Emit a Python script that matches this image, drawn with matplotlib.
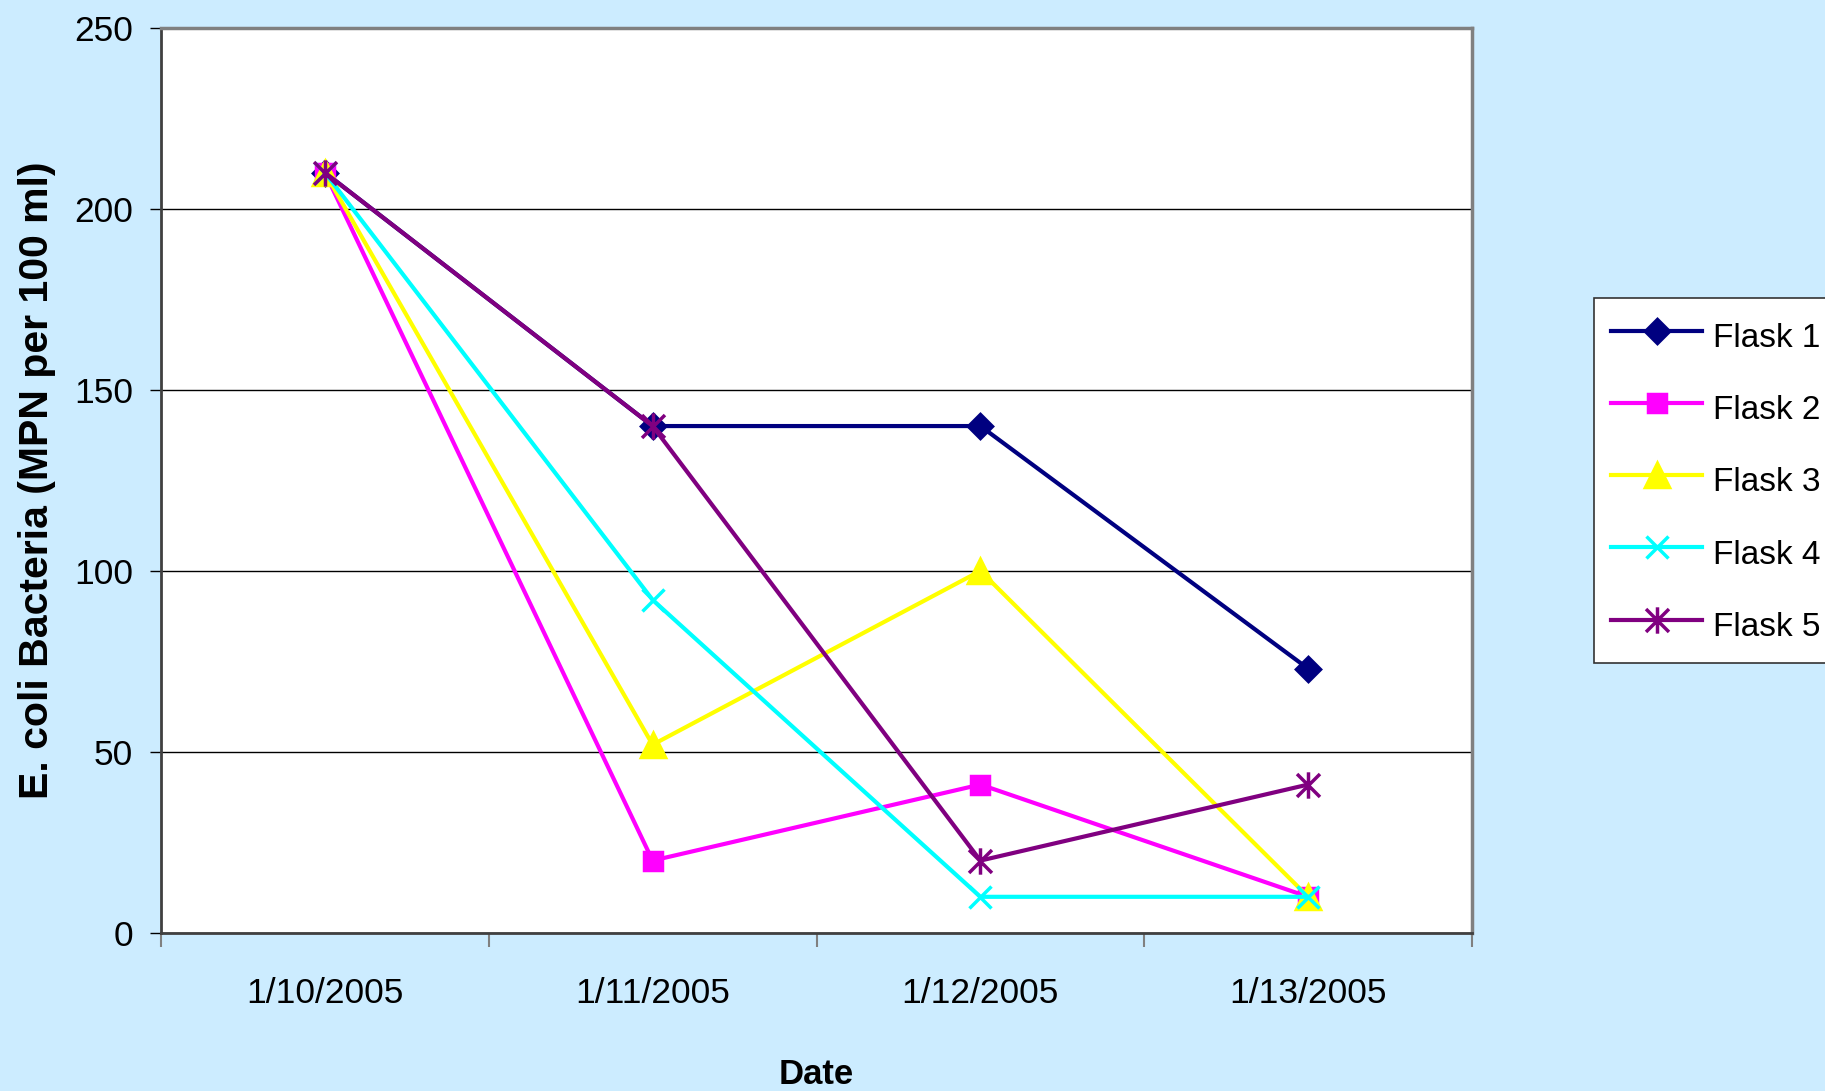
import matplotlib.pyplot as plt
from matplotlib.path import Path

# E. coli counts per flask on each sampling date
dates = ["1/10/2005", "1/11/2005", "1/12/2005", "1/13/2005"]
flask1 = [210, 140, 140, 73]
flask2 = [210, 20, 41, 10]
flask3 = [210, 52, 100, 10]
flask4 = [210, 92, 10, 10]
flask5 = [210, 140, 20, 41]

plt.rcParams["font.family"] = ["Liberation Sans", "DejaVu Sans"]

# Excel style asterisk: vertical bar plus an X
star = Path([(0, -1.15), (0, 1.15), (-1, -1), (1, 1), (-1, 1), (1, -1)],
            [Path.MOVETO, Path.LINETO, Path.MOVETO, Path.LINETO, Path.MOVETO, Path.LINETO])

series = [
    ("Flask 1", flask1, "#000080", "D", 12),
    ("Flask 2", flask2, "#FF00FF", "s", 13),
    ("Flask 3", flask3, "#FFFF00", "^", 17),
    ("Flask 4", flask4, "#00FFFF", "x", 16),
    ("Flask 5", flask5, "#800080", star, 19),
]

fig = plt.figure(figsize=(18.25, 10.91), dpi=100, facecolor="#CCECFF")
ax = fig.add_axes([0.0882, 0.1448, 0.7184, 0.8298])
ax.set_facecolor("white")

x = [i + 0.5 for i in range(len(dates))]
for name, vals, color, marker, ms in series:
    ax.plot(x, vals, color=color, lw=3, marker=marker, markersize=ms,
            markerfacecolor=color, markeredgecolor=color, markeredgewidth=2.5,
            label=name, clip_on=False)

ax.set_xlim(0, len(dates))
ax.set_ylim(0, 250)
ax.set_yticks(range(0, 251, 50))
ax.yaxis.grid(True, color="black", lw=1.0)
ax.set_axisbelow(True)

ax.set_xticks(x)
ax.set_xticklabels(dates)
ax.set_xticks(range(len(dates) + 1), minor=True)
ax.tick_params(axis="x", which="major", length=0, pad=32, labelsize=25.5)
ax.tick_params(axis="x", which="minor", length=10, width=1.5, color="#808080", direction="out")
ax.tick_params(axis="y", length=8, width=1, color="black", direction="out", pad=12, labelsize=25.5)

for side in ["top", "right"]:
    ax.spines[side].set_color("#808080")
    ax.spines[side].set_linewidth(2.5)
for side in ["left", "bottom"]:
    ax.spines[side].set_color("#404040")
    ax.spines[side].set_linewidth(2)

ax.set_xlabel("Date", fontsize=25, fontweight="bold", labelpad=34)
ax.set_ylabel("E. coli Bacteria (MPN per 100 ml)", fontsize=29.5, fontweight="bold",
              labelpad=13)

leg = ax.legend(loc="upper left", bbox_to_anchor=(1594 / 1825, 1 - 298 / 1091),
                bbox_transform=fig.transFigure, borderaxespad=0, fontsize=24,
                handlelength=2.75, handleheight=1.6, handletextpad=0.33,
                labelspacing=0.88, borderpad=0.5, frameon=True, fancybox=False,
                framealpha=1)
leg.get_frame().set_facecolor("white")
leg.get_frame().set_edgecolor("#333333")
leg.get_frame().set_linewidth(1.2)

fig.savefig("out.png", dpi=100, facecolor=fig.get_facecolor())
